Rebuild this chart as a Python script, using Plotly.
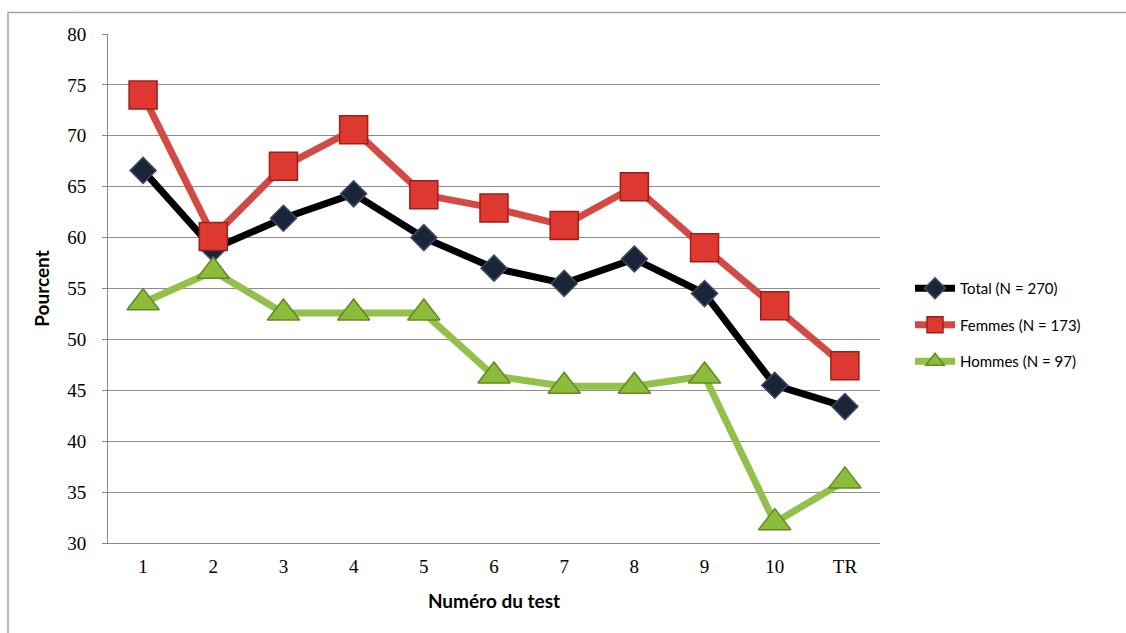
import plotly.graph_objects as go

# Test labels and percentage of correct answers per group
tests = ["1", "2", "3", "4", "5", "6", "7", "8", "9", "10", "TR"]
total = [66.6, 58.9, 61.9, 64.3, 60.0, 57.0, 55.5, 57.9, 54.5, 45.5, 43.4]
femmes = [74.0, 60.1, 67.0, 70.6, 64.2, 62.9, 61.2, 65.0, 59.0, 53.3, 47.4]
hommes = [53.6, 56.7, 52.6, 52.6, 52.6, 46.4, 45.4, 45.4, 46.4, 32.0, 36.1]

names = ["Total (N = 270)", "Femmes (N = 173)", "Hommes (N = 97)"]

W, H = 1126, 633
L, R, T, B = 108, 246, 34, 90
pw, ph = W - L - R, H - T - B

fig = go.Figure()

fig.add_trace(go.Scatter(
    x=tests, y=total, name=names[0], mode="lines+markers", legendgroup="t",
    line=dict(color="#000000", width=7),
    marker=dict(symbol="diamond", size=20, color="#1c2538",
                line=dict(color="#3b4a6a", width=1.5)),
))
fig.add_trace(go.Scatter(
    x=tests, y=femmes, name=names[1], mode="lines+markers", legendgroup="f",
    line=dict(color="#d24a43", width=7),
    marker=dict(symbol="square", size=28, color="#dd3931",
                line=dict(color="#9e1f19", width=1.5)),
))
fig.add_trace(go.Scatter(
    x=tests, y=hommes, name=names[2], mode="lines+markers", legendgroup="h",
    line=dict(color="#92c04a", width=7),
    marker=dict(symbol="triangle-up", size=28, color="#8cbc3a",
                line=dict(color="#5f8a22", width=1.5)),
))

# outer chart frame
def px_x(v):
    return (v - L) / pw

def px_y(v):
    return (H - B - v) / ph

fig.add_shape(type="rect", xref="paper", yref="paper",
              x0=px_x(8), x1=px_x(1140), y0=px_y(645), y1=px_y(12.5),
              line=dict(color="#a6a6a6", width=1.5), fillcolor="rgba(0,0,0,0)",
              layer="below")

fig.update_layout(
    width=W, height=H,
    margin=dict(l=L, r=R, t=T, b=B),
    paper_bgcolor="white", plot_bgcolor="white",
    showlegend=True,
    legend=dict(x=px_x(910), y=px_y(325), xanchor="left", yanchor="middle",
                font=dict(family="Lato", size=15, color="#000000"),
                tracegroupgap=14, itemwidth=40,
                bgcolor="rgba(0,0,0,0)"),
    xaxis=dict(
        type="category", range=[-0.5, 10.5],
        showgrid=False, showline=True, linecolor="#868686", linewidth=1,
        ticks="", ticklabelstandoff=6,
        tickfont=dict(family="Liberation Serif", size=19, color="#000000"),
        title=dict(text="Numéro du test", standoff=18,
                   font=dict(family="Lato", size=19, color="#000000", weight="bold")),
        fixedrange=True,
    ),
    yaxis=dict(
        range=[30, 80], dtick=5, tick0=30,
        showgrid=True, gridcolor="#8c8c8c", gridwidth=1,
        showline=True, linecolor="#868686", linewidth=1,
        ticks="outside", ticklen=5, tickcolor="#868686", ticklabelstandoff=12,
        zeroline=False,
        tickfont=dict(family="Liberation Serif", size=19, color="#000000"),
        title=dict(text="Pourcent", standoff=12,
                   font=dict(family="Lato", size=19, color="#000000", weight="bold")),
        fixedrange=True,
    ),
)

fig.write_html("out.html")
